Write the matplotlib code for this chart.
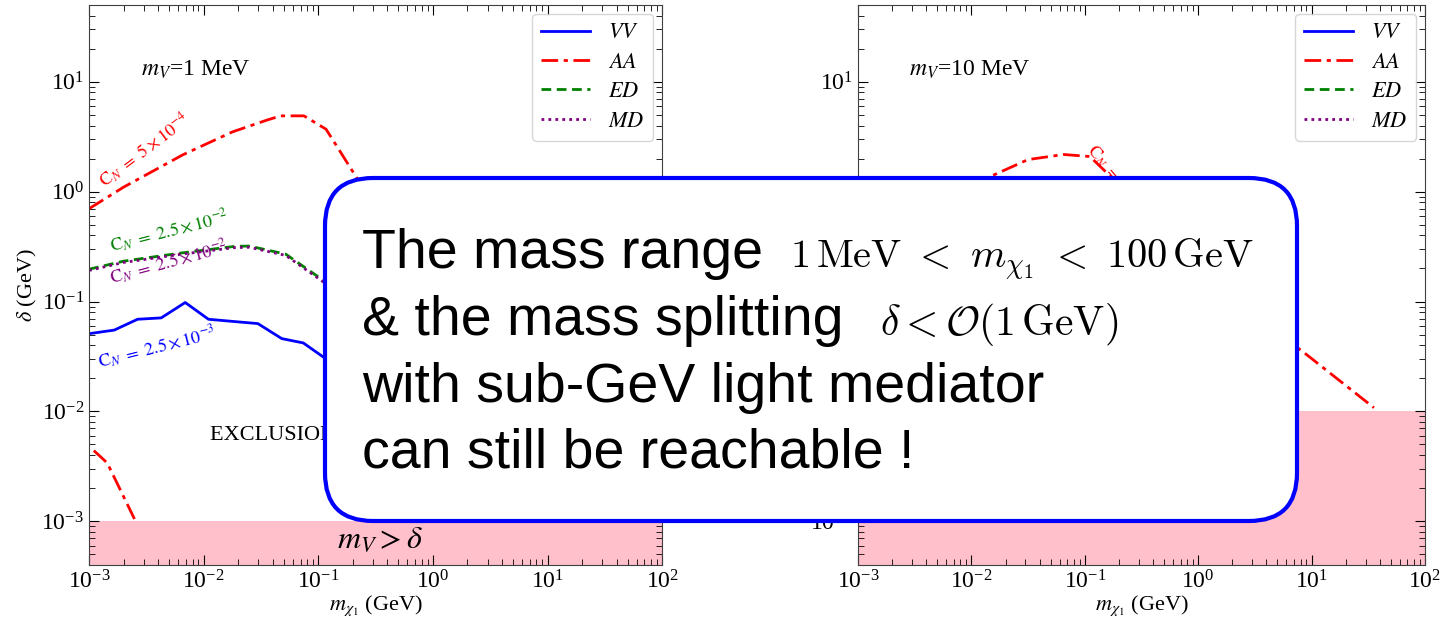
import numpy as np
import matplotlib.pyplot as plt
from matplotlib.patches import FancyBboxPatch

plt.rcParams['font.family'] = ['Liberation Serif', 'DejaVu Serif']
plt.rcParams['mathtext.fontset'] = 'stix'

# m_V = 1 MeV panel
vv_x1 = [1e-3, 1.66e-3, 2.65e-3, 4.26e-3, 6.9e-3, 0.011, 0.0178, 0.0297, 0.048, 0.074, 0.117, 0.2, 0.4]
vv_y1 = [0.051, 0.055, 0.069, 0.071, 0.098, 0.069, 0.066, 0.063, 0.046, 0.042, 0.030, 0.02, 0.01]
aa_x1 = [1e-3, 2e-3, 6.6e-3, 0.0178, 0.036, 0.047, 0.075, 0.117, 0.22, 0.4]
aa_y1 = [0.70, 1.1, 2.17, 3.5, 4.5, 4.9, 4.9, 3.7, 1.3, 0.3]
aa_lo_x1 = [1.1e-3, 1.44e-3, 2.57e-3]
aa_lo_y1 = [4.4e-3, 3.4e-3, 9.8e-4]
ed_x1 = [1e-3, 2e-3, 6.1e-3, 0.0187, 0.025, 0.052, 0.104, 0.2]
ed_y1 = [0.197, 0.233, 0.275, 0.318, 0.32, 0.27, 0.163, 0.1]
md_y1 = [0.192, 0.227, 0.268, 0.310, 0.312, 0.263, 0.158, 0.097]

# m_V = 10 MeV panel
aa_x2 = [2e-3, 5e-3, 0.0146, 0.0316, 0.065, 0.111, 0.176, 0.5, 2.0, 8.2, 35.5]
aa_y2 = [0.4, 0.8, 1.37, 1.96, 2.18, 2.09, 1.32, 0.45, 0.1, 0.0356, 0.0108]

ylo, yhi = 4e-4, 50
mv_cut = [1e-3, 1e-2]
panel_titles = ['$m_V$=1 MeV', '$m_V$=10 MeV']

fig = plt.figure(figsize=(14.53, 6.2), dpi=100)
ax1 = fig.add_axes([0.0613, 0.0887, 0.3944, 0.9032])
ax2 = fig.add_axes([0.5905, 0.0887, 0.3902, 0.9032])

lw = 2.0
dashdot = (0, (6, 2, 1.5, 2))
ax1.plot(vv_x1, vv_y1, color='blue', lw=lw, label='$VV$')
ax1.plot(aa_x1, aa_y1, color='red', lw=lw, ls=dashdot, label='$AA$')
ax1.plot(aa_lo_x1, aa_lo_y1, color='red', lw=lw, ls=dashdot)
ax1.plot(ed_x1, ed_y1, color='green', lw=lw, ls=(0, (3.5, 2)), label='$ED$')
ax1.plot(ed_x1, md_y1, color='purple', lw=lw, ls=(0, (1, 1.5)), label='$MD$')

ax2.plot([], [], color='blue', lw=lw, label='$VV$')
ax2.plot(aa_x2, aa_y2, color='red', lw=lw, ls=dashdot, label='$AA$')
ax2.plot([], [], color='green', lw=lw, ls=(0, (3.5, 2)), label='$ED$')
ax2.plot([], [], color='purple', lw=lw, ls=(0, (1, 1.5)), label='$MD$')

for ax, cut, title in zip([ax1, ax2], mv_cut, panel_titles):
    ax.set_xscale('log')
    ax.set_yscale('log')
    ax.set_xlim(1e-3, 1e2)
    ax.set_ylim(ylo, yhi)
    ax.axhspan(ylo, cut, color='pink', zorder=0, lw=0)
    ax.tick_params(which='both', direction='in', top=True, right=True, labelsize=17)
    ax.tick_params(which='major', length=7)
    ax.tick_params(which='minor', length=4)
    for s in ax.spines.values():
        s.set_color('0.25')
    ax.set_xlabel(r'$m_{\chi_1}$ (GeV)', fontsize=16, labelpad=0)
    ax.text(0.09, 0.884, title, transform=ax.transAxes, fontsize=17, va='center')
    ax.legend(loc='upper right', fontsize=16, handlelength=2.2, borderaxespad=0.4,
              labelspacing=0.4)

ax1.set_ylabel(r'$\delta$ (GeV)', fontsize=16, labelpad=2)

ax1.text(0.211, 0.232, 'EXCLUSION REGION', transform=ax1.transAxes, fontsize=16, va='center')
ax1.text(0.508, 0.045, r'$m_V > \delta$', transform=ax1.transAxes, fontsize=23,
         ha='center', va='center')
ax1.text(0.097, 0.741, r'$\mathrm{C}_N\ =\ 5\times10^{-4}$', transform=ax1.transAxes, fontsize=13,
         color='red', rotation=37, ha='center', va='center')
ax1.text(0.14, 0.596, r'$\mathrm{C}_N\ =\ 2.5\times10^{-2}$', transform=ax1.transAxes, fontsize=13,
         color='green', rotation=14, ha='center', va='center')
ax1.text(0.14, 0.541, r'$\mathrm{C}_N\ =\ 2.5\times10^{-2}$', transform=ax1.transAxes, fontsize=13,
         color='purple', rotation=15, ha='center', va='center')
ax1.text(0.118, 0.388, r'$\mathrm{C}_N\ =\ 2.5\times10^{-3}$', transform=ax1.transAxes, fontsize=13,
         color='blue', rotation=14, ha='center', va='center')
ax2.text(0.425, 0.759, r'$\mathrm{C}_N\ =\ 5\times10^{-4}$', transform=ax2.transAxes, fontsize=13,
         color='red', rotation=-50, ha='left', va='top', rotation_mode='anchor')

# overlay message box
ov = fig.add_axes([0, 0, 1, 1])
ov.set_xlim(0, 1453)
ov.set_ylim(620, 0)
ov.axis('off')
ov.add_patch(FancyBboxPatch((325, 178), 972, 343, boxstyle='round,pad=0,rounding_size=48',
                            fc='white', ec='#0000ff', lw=3))
sans = ['Liberation Sans', 'DejaVu Sans']
ov.text(362, 268, 'The mass range', fontsize=40, family=sans, va='baseline')
ov.text(362, 335, '& the mass splitting', fontsize=40, family=sans, va='baseline')
ov.text(362, 402, 'with sub-GeV light mediator', fontsize=40, family=sans, va='baseline')
ov.text(362, 468, 'can still be reachable !', fontsize=40, family=sans, va='baseline')
ov.text(790, 268, r'$1\,\mathrm{MeV}\ <\ m_{\chi_1}\ <\ 100\,\mathrm{GeV}$', fontsize=29,
        math_fontfamily='cm', va='baseline')
ov.text(880, 335, r'$\delta < \mathcal{O}(1\,\mathrm{GeV})$', fontsize=30,
        math_fontfamily='cm', va='baseline')

fig.savefig('out.png', dpi=100)
